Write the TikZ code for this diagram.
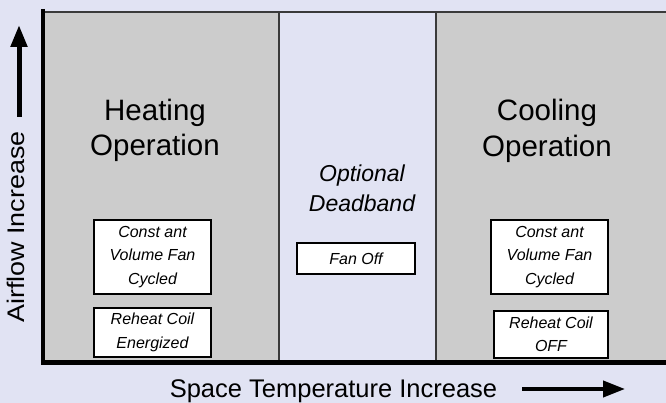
\documentclass[tikz,border=0pt]{standalone}
\usepackage{fontspec}
\setmainfont{Liberation Sans}
\usetikzlibrary{arrows.meta}
\definecolor{bg}{HTML}{E1E3F3}
\definecolor{panel}{HTML}{CCCCCC}
\definecolor{divider}{HTML}{3A3A3A}
\begin{document}
\begin{tikzpicture}[x=1pt,y=-1pt,
  statebox/.style={draw=black, line width=1.6pt, fill=white, inner sep=0pt, align=center,
    font=\fontsize{16}{23.5}\selectfont\itshape},
  bigtitle/.style={inner sep=0pt, align=center, font=\fontsize{29.5}{35.5}\selectfont},
  midtitle/.style={inner sep=0pt, align=center, font=\fontsize{23}{30}\selectfont\itshape},
  axislabel/.style={inner sep=0pt, font=\fontsize{25.5}{28}\selectfont},
  axis/.style={line width=4.5pt, black},
  divline/.style={line width=1.8pt, divider},
  bigarrow/.style={line width=#1, black, -{Triangle[width=16pt,length=22pt]}}
]
\fill[bg] (0,0) rectangle (666,403);
\useasboundingbox (0,0) rectangle (666,403);
% panels
\fill[panel] (43,12) rectangle (279,362);
\fill[panel] (436,12) rectangle (666,362);
\draw[divline] (43,12) -- (666,12);
\draw[divline] (279,12) -- (279,362);
\draw[divline] (436,12) -- (436,362);
% axes
\draw[axis] (43,9) -- (43,362.5) -- (666,362.5);
% titles
\node[bigtitle] (heat) at (155,130.3) {Heating\\Operation};
\node[bigtitle] (cool) at (547,130.7) {Cooling\\Operation};
\node[midtitle] (dead) at (362,188.5) {Optional\\Deadband};
% boxes
\node[statebox, minimum width=117pt, minimum height=74pt] (hfan) at (152.5,257) {Const ant\\Volume Fan\\Cycled};
\node[statebox, minimum width=117pt, minimum height=49pt] (hcoil) at (152.5,332.5) {Reheat Coil\\Energized};
\node[statebox, minimum width=118pt, minimum height=31pt] (fanoff) at (356,258.5) {Fan Off};
\node[statebox, minimum width=117pt, minimum height=74pt] (cfan) at (549.5,257) {Const ant\\Volume Fan\\Cycled};
\node[statebox, minimum width=114pt, minimum height=47pt] (ccoil) at (551,334.5) {Reheat Coil\\OFF};
% axis labels
\node[axislabel, anchor=base] (xlab) at (333.5,397) {Space Temperature Increase};
\node[axislabel, anchor=base, rotate=90, font=\fontsize{24}{28}\selectfont] (ylab) at (24.5,227) {\scalebox{1.12}[1]{Airflow Increase}};
% arrows
\coordinate (ya) at (19,117);
\coordinate (yb) at (19,25);
\coordinate (xa) at (522,389);
\coordinate (xb) at (625,389);
\draw[bigarrow=5pt] (ya) -- (yb);
\draw[bigarrow=4pt] (xa) -- (xb);
\end{tikzpicture}
\end{document}
